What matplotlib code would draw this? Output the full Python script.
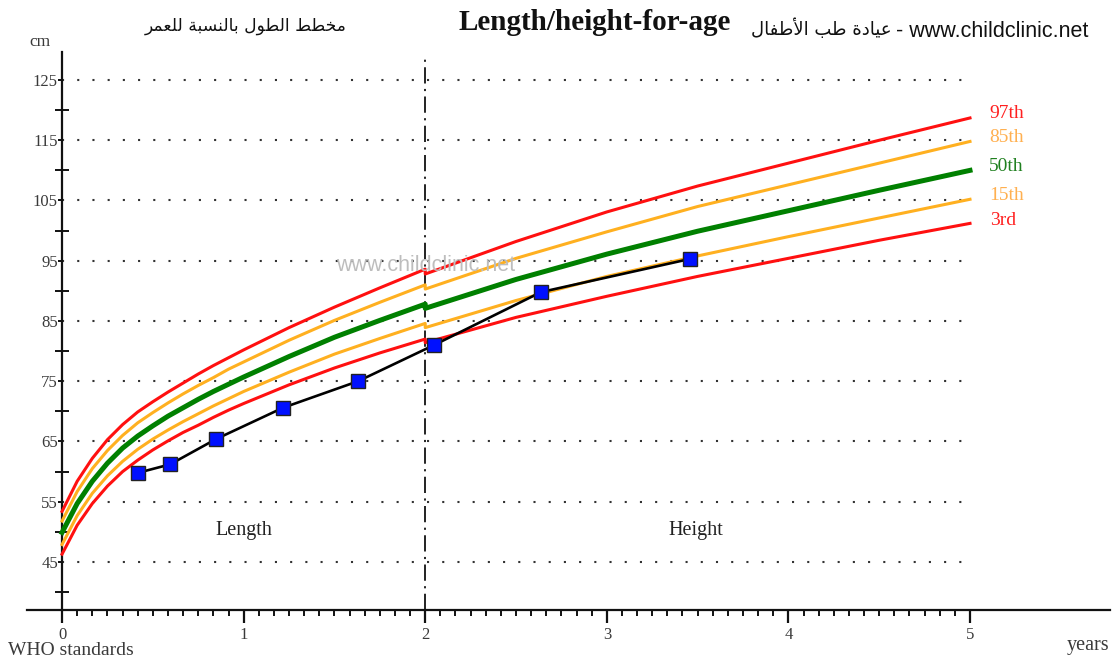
import matplotlib
matplotlib.use("Agg")
import matplotlib.pyplot as plt
from matplotlib.ticker import FixedLocator

# ---------------- data ----------------
# WHO length-for-age (0-2 y) and height-for-age (2-5 y), boys, percentiles (cm)
age_len = [0, 1/12, 2/12, 3/12, 4/12, 5/12, 6/12, 7/12, 8/12, 9/12, 10/12, 11/12,
           1.0, 1.25, 1.5, 1.75, 2.0]
p3_len  = [46.3, 51.1, 54.7, 57.6, 60.0, 61.9, 63.6, 65.1, 66.5, 67.7, 69.0, 70.2,
           71.3, 74.4, 77.2, 79.7, 82.0]
p15_len = [47.9, 52.7, 56.4, 59.3, 61.7, 63.7, 65.4, 66.9, 68.3, 69.6, 70.9, 72.1,
           73.3, 76.5, 79.5, 82.1, 84.6]
p50_len = [49.9, 54.7, 58.4, 61.4, 63.9, 65.9, 67.6, 69.2, 70.6, 72.0, 73.3, 74.5,
           75.7, 79.1, 82.3, 85.1, 87.8]
p85_len = [51.8, 56.7, 60.5, 63.5, 66.0, 68.1, 69.8, 71.4, 72.9, 74.3, 75.6, 77.0,
           78.2, 81.8, 85.1, 88.1, 91.0]
p97_len = [53.4, 58.4, 62.2, 65.3, 67.8, 69.9, 71.6, 73.2, 74.7, 76.2, 77.6, 78.9,
           80.2, 83.9, 87.3, 90.5, 93.6]

age_hgt = [2.0, 2.5, 3.0, 3.5, 4.0, 4.5, 5.0]
p3_hgt  = [81.4, 85.6, 89.1, 92.4, 95.4, 98.4, 101.2]
p15_hgt = [83.9, 88.4, 92.4, 95.8, 99.0, 102.1, 105.2]
p50_hgt = [87.1, 91.9, 96.1, 99.9, 103.3, 106.7, 110.0]
p85_hgt = [90.3, 95.4, 99.8, 104.0, 107.6, 111.2, 114.8]
p97_hgt = [92.8, 98.2, 103.1, 107.4, 111.2, 115.0, 118.7]

percentile_names = ["97th", "85th", "50th", "15th", "3rd"]

# child measurements
child_age = [0.418, 0.595, 0.848, 1.217, 1.630, 2.048, 2.638, 3.458]
child_len = [59.8, 61.2, 65.4, 70.6, 75.0, 81.0, 89.8, 95.3]

y_major = [45, 55, 65, 75, 85, 95, 105, 115, 125]
y_minor = [40, 50, 60, 70, 80, 90, 100, 110, 120]
x_major = [0, 1, 2, 3, 4, 5]

title_en = "Length/height-for-age"
title_ar = "مخطط الطول بالنسبة للعمر"
site_ar = "عيادة طب الأطفال"
site_url = " - www.childclinic.net"
watermark = "www.childclinic.net"

# ------------- minimal Arabic shaping (presentation forms) -------------
FORMS = {
    'ا': (0xFE8D, 0xFE8E, None, None), 'أ': (0xFE83, 0xFE84, None, None),
    'ب': (0xFE8F, 0xFE90, 0xFE91, 0xFE92), 'ة': (0xFE93, 0xFE94, None, None),
    'خ': (0xFEA5, 0xFEA6, 0xFEA7, 0xFEA8), 'د': (0xFEA9, 0xFEAA, None, None),
    'ر': (0xFEAD, 0xFEAE, None, None), 'س': (0xFEB1, 0xFEB2, 0xFEB3, 0xFEB4),
    'ط': (0xFEC1, 0xFEC2, 0xFEC3, 0xFEC4), 'ع': (0xFEC9, 0xFECA, 0xFECB, 0xFECC),
    'ف': (0xFED1, 0xFED2, 0xFED3, 0xFED4), 'ل': (0xFEDD, 0xFEDE, 0xFEDF, 0xFEE0),
    'م': (0xFEE1, 0xFEE2, 0xFEE3, 0xFEE4), 'ن': (0xFEE5, 0xFEE6, 0xFEE7, 0xFEE8),
    'و': (0xFEED, 0xFEEE, None, None), 'ي': (0xFEF1, 0xFEF2, 0xFEF3, 0xFEF4),
}
LAMALEF = {'ا': (0xFEFB, 0xFEFC), 'أ': (0xFEF7, 0xFEF8)}


def shape_ar(text):
    toks = []
    i = 0
    while i < len(text):
        c = text[i]
        if c == 'ل' and i + 1 < len(text) and text[i + 1] in LAMALEF:
            toks.append(('LA', text[i + 1]))
            i += 2
        else:
            toks.append(('C', c))
            i += 1

    def joins_left(t):
        if t[0] == 'LA':
            return False
        f = FORMS.get(t[1])
        return f is not None and f[2] is not None

    def is_ar(t):
        return t[0] == 'LA' or t[1] in FORMS

    out = []
    for k, t in enumerate(toks):
        prev = toks[k - 1] if k > 0 else None
        nxt = toks[k + 1] if k + 1 < len(toks) else None
        jp = prev is not None and joins_left(prev) and is_ar(t)
        if t[0] == 'LA':
            a, b = LAMALEF[t[1]]
            out.append(chr(b if jp else a))
            continue
        f = FORMS.get(t[1])
        if f is None:
            out.append(t[1])
            continue
        jn = f[2] is not None and nxt is not None and is_ar(nxt)
        if jp and jn:
            out.append(chr(f[3]))
        elif jp:
            out.append(chr(f[1]))
        elif jn:
            out.append(chr(f[2]))
        else:
            out.append(chr(f[0]))
    return ''.join(out)[::-1]


# ---------------- figure ----------------
W, H = 1120, 660
fig = plt.figure(figsize=(W / 100, H / 100), dpi=100)
fig.patch.set_facecolor("white")

px_left, px_right, px_top, px_bot = 27, 1110, 40, 610
ax = fig.add_axes([px_left / W, 1 - px_bot / H, (px_right - px_left) / W, (px_bot - px_top) / H])
ax.set_xlim(-0.193, 5.771)
ax.set_ylim(37.03, 131.64)
ax.set_facecolor("white")

SERIF = ["Liberation Serif", "DejaVu Serif"]
txtc = "#3a3a3a"
axc = "#111111"

for s in ["top", "right"]:
    ax.spines[s].set_visible(False)
ax.spines["left"].set_position(("data", 0))
ax.spines["left"].set_bounds(37.03, 129.6)
for s in ["left", "bottom"]:
    ax.spines[s].set_linewidth(1.6)
    ax.spines[s].set_color(axc)

ax.xaxis.set_major_locator(FixedLocator(x_major))
ax.xaxis.set_minor_locator(FixedLocator([m / 12 for m in range(1, 60) if m % 12]))
ax.yaxis.set_major_locator(FixedLocator(y_major))
ax.yaxis.set_minor_locator(FixedLocator(y_minor))
ax.tick_params(axis="x", which="major", direction="out", length=9, width=1.6, color=axc,
               labelsize=12, labelcolor=txtc, pad=3)
ax.tick_params(axis="x", which="minor", direction="out", length=4, width=1.4, color=axc)
ax.tick_params(axis="y", which="major", direction="out", length=3, width=1.4, color=axc,
               labelsize=12, labelcolor=txtc, pad=0)
ax.tick_params(axis="y", which="minor", direction="inout", length=10, width=1.4, color=axc)
for lab in ax.get_xticklabels() + ax.get_yticklabels():
    lab.set_family(SERIF)

# dotted grid
for yv in y_major:
    ax.plot([0, 5], [yv, yv], color="#333333", lw=1.5, ls=(0, (1, 6.3)), zorder=1)

# dash-dot separator at 2 years
ax.plot([2, 2], [37.03, 128.6], color=axc, lw=1.3, ls=(0, (9, 3, 1.2, 3)), zorder=2)

# percentile curves
red, orange, green = "#FF1010", "#FFB020", "#008000"
curves = [
    (p97_len, p97_hgt, red, 2.2),
    (p85_len, p85_hgt, orange, 2.2),
    (p50_len, p50_hgt, green, 3.6),
    (p15_len, p15_hgt, orange, 2.2),
    (p3_len, p3_hgt, red, 2.2),
]
for yl, yh, c, lw in curves:
    ax.plot(age_len + age_hgt, yl + yh, color=c, lw=lw, zorder=3, solid_joinstyle="round")

# percentile labels
lab_cols = ["#FF2020", "#FFB050", "#208020", "#FFB050", "#FF2020"]
lab_y = [p97_hgt[-1] + 0.7, p85_hgt[-1] + 0.7, p50_hgt[-1] + 0.7, p15_hgt[-1] + 0.7, p3_hgt[-1] + 0.5]
lab_x = [5.2, 5.2, 5.2, 5.2, 5.185]
for name, c, xv, yv in zip(percentile_names, lab_cols, lab_x, lab_y):
    ax.text(xv, yv, name, color=c, fontsize=14, family=SERIF, ha="center", va="center")

# child data
ax.plot(child_age, child_len, color="black", lw=1.9, zorder=5)
ax.plot(child_age, child_len, ls="none", marker="s", ms=10, mfc="#0010FF", mec="#222222",
        mew=1.0, zorder=6)

# labels inside
ax.text(1.0, 50.3, "Length", fontsize=14.5, family=SERIF, color="#222222", ha="center", va="center")
ax.text(3.49, 50.3, "Height", fontsize=14.5, family=SERIF, color="#222222", ha="center", va="center")
ax.text(2.0, 94.2, watermark, fontsize=15.5, family=["Liberation Sans", "DejaVu Sans"],
        color="#bdbdbd", ha="center", va="center", zorder=4)

# outer texts
fig.text(40 / W, 1 - 46 / H, "cm", fontsize=12.5, family=SERIF, color=txtc, ha="center", va="baseline")
fig.text(71 / W, 1 - 655 / H, "WHO standards", fontsize=14, family=SERIF, color=txtc,
         ha="center", va="baseline")
fig.text(1088 / W, 1 - 650 / H, "years", fontsize=14.5, family=SERIF, color=txtc,
         ha="center", va="baseline")

fig.text(595 / W, 1 - 30 / H, title_en, fontsize=21, family=SERIF, weight="bold",
         color="#111111", ha="center", va="baseline")
fig.text(1088 / W, 1 - 37 / H, site_url, fontsize=15.5,
         family=["Liberation Sans", "DejaVu Sans"], color="#111111", ha="right", va="baseline")
fig.text(892 / W, 1 - 35 / H, shape_ar(site_ar), fontsize=13,
         family=["DejaVu Sans"], color="#111111", ha="right", va="baseline")
fig.text(246 / W, 1 - 31 / H, shape_ar(title_ar), fontsize=12.3, family=["DejaVu Sans"],
         color="#111111", ha="center", va="baseline")

fig.savefig("out.png", dpi=100, facecolor="white")
